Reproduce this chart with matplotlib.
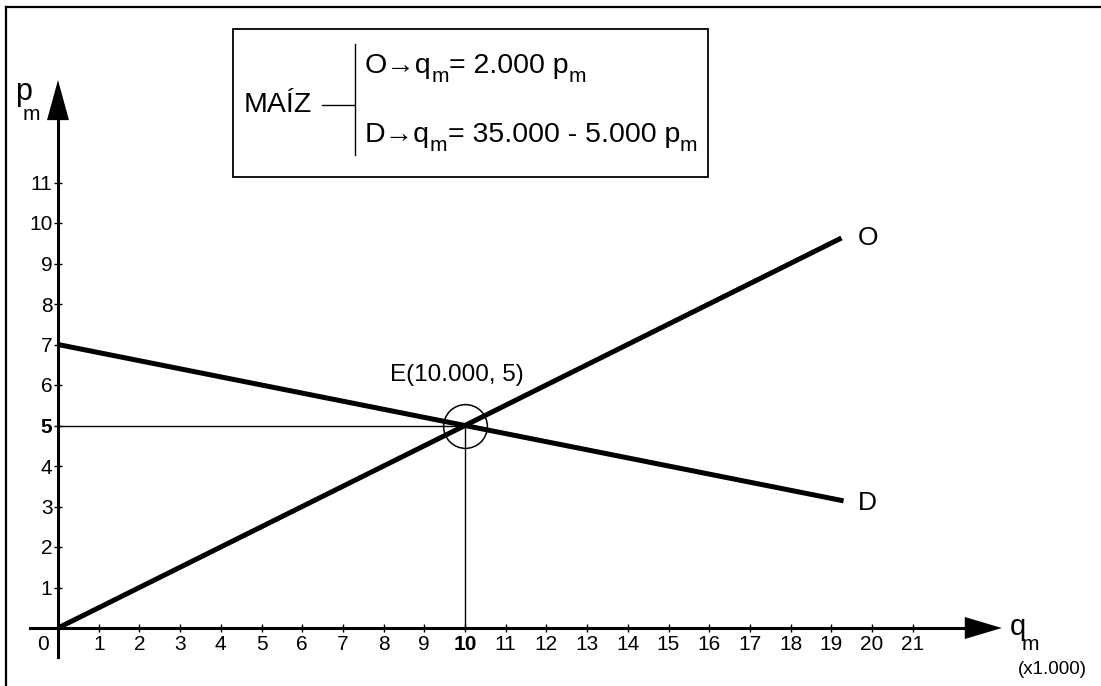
import matplotlib
matplotlib.use("Agg")
import matplotlib.pyplot as plt
from matplotlib.patches import Rectangle
from matplotlib.lines import Line2D

plt.rcParams['font.family'] = ['Liberation Sans', 'DejaVu Sans']

# oferta (O) y demanda (D), q en miles
q_oferta = [0, 10, 19.25]
p_oferta = [0, 5, 9.63]
q_demanda = [0, 10, 19.3]
p_demanda = [7, 5, 3.14]
q_eq, p_eq = 10, 5

x_ticks = list(range(1, 22))
y_ticks = list(range(1, 12))

W, H = 1101, 686
fig = plt.figure(figsize=(W / 100, H / 100), dpi=100)
ax = fig.add_axes([0, 0, 1, 1])
renderer = fig.canvas.get_renderer()

# scale: px per unit, origin in pixels
sx, sy = 40.7, 40.5
ox, oy = 58, 628
ax.set_xlim(-ox / sx, (W - ox) / sx)
ax.set_ylim((oy - H) / sy, oy / sy)

def fx(px):
    return px / W

def fy(py):
    return 1 - py / H

def pieces(x_px, y_px, parts):
    # text with hand-made subscripts: (text, size, drop in px)
    x = x_px
    for txt, size, drop in parts:
        t = fig.text(fx(x), fy(y_px + drop), txt, fontsize=size,
                     ha='left', va='baseline')
        x += t.get_window_extent(renderer).width

# axes
for s in ['top', 'right']:
    ax.spines[s].set_visible(False)
ax.spines['left'].set_position(('data', 0))
ax.spines['bottom'].set_position(('data', 0))
ax.spines['left'].set_bounds(-29 / sy, 12.6)
ax.spines['bottom'].set_bounds(-28 / sx, 22.3)
ax.spines['left'].set_linewidth(2.2)
ax.spines['bottom'].set_linewidth(2.2)

# arrow heads
hw = 11
ax.fill([-hw / sx, hw / sx, 0], [12.54, 12.54, 13.53], color='k', lw=0)
ax.fill([22.28, 22.28, 23.19], [-hw / sy, hw / sy, 0], color='k', lw=0)

ax.set_xticks(x_ticks, [str(v) for v in x_ticks])
ax.set_yticks(y_ticks, [str(v) for v in y_ticks])
ax.tick_params(axis='both', direction='inout', length=6, width=1,
               labelsize=15, colors='k')
ax.tick_params(axis='x', pad=2)
ax.tick_params(axis='y', pad=1)
for lbl in ax.get_xticklabels():
    if lbl.get_text() == str(q_eq):
        lbl.set_fontweight('bold')
for lbl in ax.get_yticklabels():
    if lbl.get_text() == str(p_eq):
        lbl.set_fontweight('bold')
ax.text(-15 / sx, -17 / sy, '0', ha='center', va='center', fontsize=15)

# equilibrium guides
ax.plot([0, q_eq], [p_eq, p_eq], color='k', lw=1)
ax.plot([q_eq, q_eq], [0, p_eq], color='k', lw=1)

# curves
ax.plot(q_oferta, p_oferta, color='k', lw=3.6, solid_capstyle='butt')
ax.plot(q_demanda, p_demanda, color='k', lw=3.6, solid_capstyle='butt')
ax.plot(q_eq, p_eq, 'o', ms=31.5, mfc='none', mec='k', mew=1.1)

ax.text(q_eq - 8 / sx, p_eq + 50 / sy, 'E(10.000, 5)', ha='center',
        va='center', fontsize=17.5)
ax.text(q_oferta[-1] + 27 / sx, p_oferta[-1], 'O', ha='center',
        va='center', fontsize=19)
ax.text(q_demanda[-1] + 24 / sx, p_demanda[-1] - 2 / sy, 'D', ha='center',
        va='center', fontsize=19)

# axis titles
fig.text(fx(15), fy(100), 'p', fontsize=22, ha='left', va='baseline')
fig.text(fx(23), fy(120), 'm', fontsize=15, ha='left', va='baseline')
fig.text(fx(1010), fy(635), 'q', fontsize=21, ha='left', va='baseline')
fig.text(fx(1022), fy(650), 'm', fontsize=15, ha='left', va='baseline')
fig.text(fx(1052), fy(674), '(x1.000)', fontsize=13.5, ha='center',
         va='baseline')

# equations box
fig.add_artist(Rectangle((fx(233), fy(177)), fx(708) - fx(233),
                         fy(29) - fy(177), transform=fig.transFigure,
                         fill=False, lw=1.3, ec='k'))
fig.text(fx(244), fy(105), 'MAÍZ', fontsize=20.5, ha='left', va='center')
fig.add_artist(Line2D([fx(322), fx(354)], [fy(105), fy(105)], color='k',
                      lw=1, transform=fig.transFigure))
fig.add_artist(Line2D([fx(355), fx(355)], [fy(44), fy(155)], color='k',
                      lw=1, transform=fig.transFigure))
pieces(365, 73, [('O→q', 20.5, 0), ('m', 15, 9), ('= 2.000 p', 20.5, 0),
                 ('m', 15, 9)])
pieces(365, 142, [('D→q', 20.5, 0), ('m', 15, 9),
                  ('= 35.000 - 5.000 p', 20.5, 0), ('m', 15, 9)])

# outer frame
fig.add_artist(Line2D([fx(6), fx(6)], [0, fy(7)], color='k', lw=1.6,
                      transform=fig.transFigure))
fig.add_artist(Line2D([fx(6), 1], [fy(7), fy(7)], color='k', lw=1.6,
                      transform=fig.transFigure))

fig.savefig('out.png', dpi=100)
